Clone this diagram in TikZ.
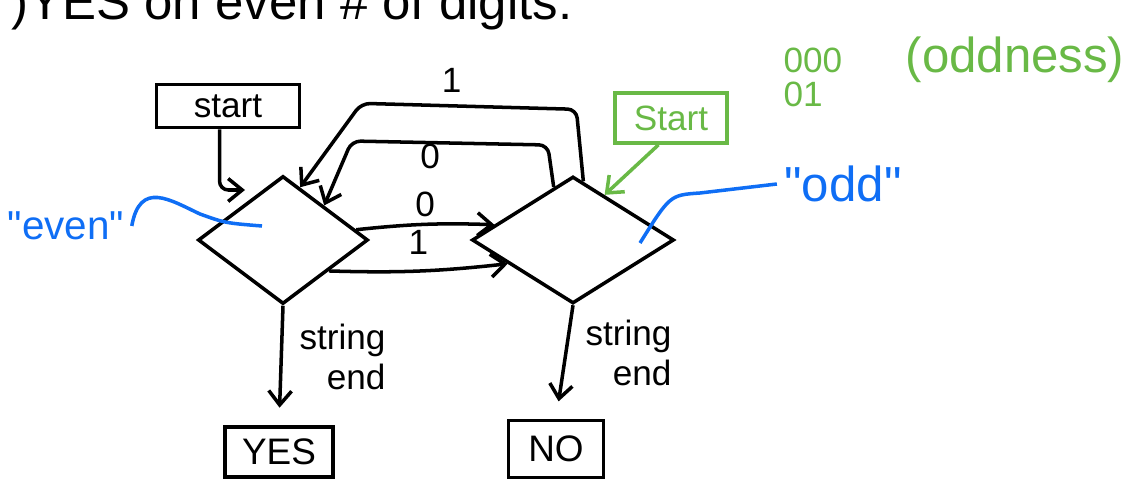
\documentclass[tikz,border=0pt]{standalone}
\usepackage{fontspec}
\setmainfont{Liberation Sans}
\usepackage{tikz}
\usetikzlibrary{arrows.meta,positioning,shapes.geometric,calc}
\usepackage{xcolor}
\definecolor{penblue}{RGB}{15,110,245}
\definecolor{pengreen}{RGB}{105,185,70}

\begin{document}
\begin{tikzpicture}[x=0.02cm, y=-0.02cm, line width=2pt,
  state/.style={draw, diamond, inner sep=0pt},
  tagbox/.style={draw, rectangle, inner sep=0pt},
  hand/.style={font=\fontsize{20}{23}\selectfont},
  move/.style={-{Straight Barb[length=8pt,width=13pt]}, rounded corners=5pt}]
  \useasboundingbox (0,0) rectangle (1129,483);

  %% Heading (cut at the top)
  \node[anchor=base west, font=\fontsize{29}{33}\selectfont] (head) at (4,20)
    {)YES on even \# of digits:};

  %% States
  \node[state, minimum width=3.4cm, minimum height=2.56cm] (even) at (283,240) {};
  \node[state, minimum width=4.04cm, minimum height=2.54cm] (odd) at (573,240) {};

  %% Start markers
  \node[tagbox, minimum width=2.86cm, minimum height=0.86cm, hand] (startL) at (228,106) {start};
  \node[tagbox, pengreen, minimum width=2.24cm, minimum height=1.0cm, hand] (startR) at (671,118) {Start};
  \coordinate (entryL) at (245,190);
  \draw[move] (startL.250) |- (entryL);
  \draw[move, pengreen] (startR.245) -- (odd.55);

  %% Transitions even -> odd
  \draw[move] (even.8) to[bend left=4] node[above=0pt, hand] (lblA) {0} (odd.169);
  \draw[move] (even.-34) to[bend right=4] node[above=5pt, hand] (lblB) {1} (odd.-160);

  %% Transitions odd -> even (over the top)
  \draw[move] (odd.110) -- ++(-6,-42) -- ++(-196,-4) node[pos=0.6, below=-1pt, inner sep=1pt, hand] (lblC) {0}
    -- (even.40);
  \draw[move] (odd.80) -- ++(-7,-72) -- ++(-215,-6) node[pos=0.58, above=3pt, hand] (lblD) {1}
    -- (even.72);

  %% Results
  \node[tagbox, minimum width=2.16cm, minimum height=1.0cm, font=\fontsize{21}{24}\selectfont] (yes) at (279,452) {YES};
  \node[tagbox, minimum width=1.9cm, minimum height=1.14cm, font=\fontsize{21}{24}\selectfont] (no) at (556,449) {NO};
  \draw[move, shorten >=10pt] (even.south) -- (yes.north);
  \draw[move, shorten >=10pt] (odd.south) -- (no.north);
  \node[hand, align=right, anchor=north west] (endL) at (292,316) {string\\end};
  \node[hand, align=right, anchor=north west] (endR) at (578,312) {string\\end};

  %% Names of the states
  \node[penblue, font=\fontsize{23}{26}\selectfont] (nameE) at (66,226) {\textquotedbl even\textquotedbl};
  \draw[penblue] (nameE.east) .. controls (140,180) and (170,200) .. (200,214)
    .. controls (225,223) .. (262,226);
  \node[penblue, font=\fontsize{28}{32}\selectfont] (nameO) at (843,184) {\textquotedbl odd\textquotedbl};
  \draw[penblue] (nameO.west) -- (700,193) .. controls (670,195) .. (640,243);

  %% Green notes
  \node[pengreen, font=\fontsize{20}{22}\selectfont, anchor=base west, inner sep=1pt] (bitsA) at (780,72) {000};
  \node[pengreen, font=\fontsize{20}{22}\selectfont, anchor=base west, inner sep=1pt] (bitsB) at (780,107) {01};
  \node[pengreen, font=\fontsize{28}{32}\selectfont] (oddness) at (1015,60) {(oddness)};
\end{tikzpicture}
\end{document}
